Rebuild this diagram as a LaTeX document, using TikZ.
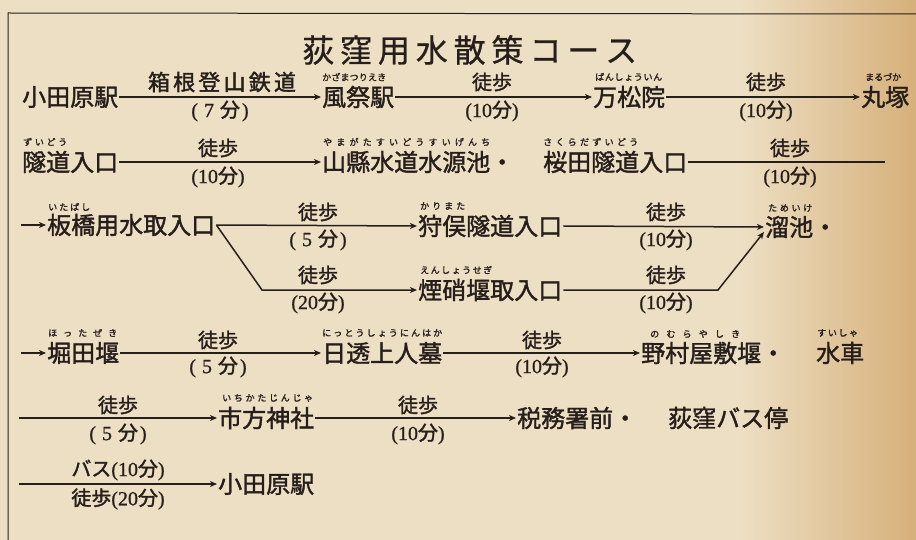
\documentclass[tikz,border=0pt]{standalone}
\usepackage{fontspec}
\setmainfont{Noto Sans CJK JP}
\newfontfamily\med[FakeBold=1.6]{Noto Sans CJK JP}
\newfontfamily\ttl[FakeBold=0.7]{Noto Sans CJK JP}
\newfontfamily\dig[FakeBold=1]{Liberation Serif}
\usetikzlibrary{arrows.meta,calc}
\definecolor{paper}{RGB}{237,223,196}
\definecolor{paperdark}{RGB}{214,176,122}
\definecolor{ink}{RGB}{38,30,26}
\def\gobbleone#1{}
\def\sprB#1#2{#1\ifx\relax#2\expandafter\gobbleone\else\hfill\expandafter\sprB\fi#2}
\newcommand\furi[2]{\makebox[#1][s]{\sprB#2\relax}}
\newcommand\mn[1]{{\dig(#1}分{\dig)}}
\newcommand\mns[1]{{\dig(\hspace{6pt}#1\hspace{6pt}}分{\dig\hspace{2pt})}}
\tikzset{
  place/.style={anchor=west, inner sep=1pt, font=\fontsize{24}{24}\selectfont\med, text=ink},
  lab/.style={inner sep=0pt, font=\fontsize{20}{20}\selectfont\med, text=ink},
  ruby/.style={anchor=west, inner sep=0pt, font=\fontsize{9}{9}\selectfont\med, text=ink},
  conn/.style={draw=ink, line width=1.5pt},
  arr/.style={conn, -{Stealth[length=7pt,width=6pt,inset=2pt]}},
}
\begin{document}
\begin{tikzpicture}[x=1pt,y=-1pt]
\useasboundingbox (0,0) rectangle (916,540);
\fill[paper] (0,0) rectangle (916,540);
\shade[left color=paper, right color=paperdark] (740,0) rectangle (916,540);
\draw[ink, line width=1pt] (8,540) -- (8,13) -- (916,14);

% title
\node[anchor=west, inner sep=0pt, text=ink, font=\fontsize{32}{32}\selectfont\ttl] (title) at (302,50) {\furi{335pt}{荻窪用水散策コース}};

% row 1
\node[place] (odawara1) at (21,97) {小田原駅};
\node[place] (kazama) at (321,97) {風祭駅};
\node[place] (bansho) at (592,97) {万松院};
\node[place] (maru) at (860,97) {丸塚};
\node[ruby] (r1) at (322,77) {\furi{64pt}{かざまつりえき}};
\node[ruby] (r2) at (595,77) {\furi{67pt}{ばんしょういん}};
\node[ruby] (r3) at (865,77) {\furi{33pt}{まるづか}};
\draw[arr] (odawara1.east) -- (kazama.west);
\draw[arr] (kazama.east) -- (bansho.west);
\draw[arr] (bansho.east) -- (maru.west);
\node[lab, font=\fontsize{22}{22}\selectfont\med] (l1a) at (222,82) {\furi{148pt}{箱根登山鉄道}};
\node[lab] (l1b) at (220,111) {\mns{7}};
\node[lab] (l1c) at (492,82) {徒歩};
\node[lab] (l1d) at (492,111) {\mn{10}};
\node[lab] (l1e) at (766,82) {徒歩};
\node[lab] (l1f) at (766,111) {\mn{10}};

% row 2
\node[place] (zuido) at (21,162) {隧道入口};
\node[place] (yamagata) at (321,162) {山縣水道水源池・};
\node[place] (sakura) at (542,162) {桜田隧道入口};
\coordinate (r2end) at (885,162);
\node[ruby] (r4) at (23,142) {\furi{44pt}{ずいどう}};
\node[ruby] (r5) at (323,142) {\furi{167pt}{やまがたすいどうすいげんち}};
\node[ruby] (r6) at (543,142) {\furi{95pt}{さくらだずいどう}};
\draw[arr] (zuido.east) -- (yamagata.west);
\draw[conn] (sakura.east) -- (r2end);
\node[lab] (l2a) at (218,148) {徒歩};
\node[lab] (l2b) at (218,177) {\mn{10}};
\node[lab] (l2c) at (790,148) {徒歩};
\node[lab] (l2d) at (790,177) {\mn{10}};

% row 3
\coordinate (r3start) at (21,225);
\node[place] (itabashi) at (46,225) {板橋用水取入口};
\node[place] (karimata) at (417,226) {狩俣隧道入口};
\node[place] (ensho) at (417,290) {煙硝堰取入口};
\node[place] (tameike) at (764,227) {溜池・};
\coordinate (bend1) at (262,290);
\coordinate (bend2) at (718,290);
\node[ruby] (r7) at (48,207) {\furi{42pt}{いたばし}};
\node[ruby] (r8) at (420,206) {\furi{45pt}{かりまた}};
\node[ruby] (r9) at (420,270) {\furi{72pt}{えんしょうせぎ}};
\node[ruby] (r10) at (768,208) {\furi{44pt}{ためいけ}};
\draw[arr] (r3start) -- (itabashi.west);
\draw[arr] (itabashi.east) -- (karimata.west);
\draw[arr, line join=miter] (itabashi.east) -- (bend1) -- (ensho.west);
\draw[arr] (karimata.east) -- (tameike.west);
\draw[arr] (ensho.east) -- (bend2) -- ($(tameike.west)+(0,5)$);
\node[lab] (l3a) at (318,212) {徒歩};
\node[lab] (l3b) at (318,240) {\mns{5}};
\node[lab] (l3c) at (318,275) {徒歩};
\node[lab] (l3d) at (318,303) {\mn{20}};
\node[lab] (l3e) at (666,212) {徒歩};
\node[lab] (l3f) at (666,240) {\mn{10}};
\node[lab] (l3g) at (666,275) {徒歩};
\node[lab] (l3h) at (666,303) {\mn{10}};

% row 4
\coordinate (r4start) at (21,353);
\node[place] (hotta) at (46,353) {堀田堰};
\node[place] (nitto) at (321,353) {日透上人墓};
\node[place] (nomura) at (640,353) {野村屋敷堰・};
\node[place] (suisha) at (815,353) {水車};
\node[ruby] (r11) at (48,333) {\furi{69pt}{ほったぜき}};
\node[ruby] (r12) at (322,333) {\furi{120pt}{にっとうしょうにんはか}};
\node[ruby] (r13) at (650,334) {\furi{90pt}{のむらやしき}};
\node[ruby] (r14) at (817,333) {\furi{41pt}{すいしゃ}};
\draw[arr] (r4start) -- (hotta.west);
\draw[arr] (hotta.east) -- (nitto.west);
\draw[arr] (nitto.east) -- (nomura.west);
\node[lab] (l4a) at (218,340) {徒歩};
\node[lab] (l4b) at (218,367) {\mns{5}};
\node[lab] (l4c) at (542,340) {徒歩};
\node[lab] (l4d) at (542,367) {\mn{10}};

% row 5
\coordinate (r5start) at (19,418);
\node[place] (ichikata) at (217,418) {市方神社};
\node[place] (zeimu) at (516,418) {税務署前・};
\node[place] (ogikubo) at (667,418) {荻窪バス停};
\node[ruby] (r15) at (222,398) {\furi{91pt}{いちかたじんじゃ}};
\draw[arr] (r5start) -- (ichikata.west);
\draw[arr] (ichikata.east) -- (zeimu.west);
\node[lab] (l5a) at (118,405) {徒歩};
\node[lab] (l5b) at (118,434) {\mns{5}};
\node[lab] (l5c) at (418,405) {徒歩};
\node[lab] (l5d) at (418,434) {\mn{10}};

% row 6
\coordinate (r6start) at (19,484);
\node[place] (odawara2) at (217,484) {小田原駅};
\draw[arr] (r6start) -- (odawara2.west);
\node[lab] (l6a) at (118,470) {バス\mn{10}};
\node[lab] (l6b) at (118,499) {徒歩\mn{20}};
\end{tikzpicture}
\end{document}
